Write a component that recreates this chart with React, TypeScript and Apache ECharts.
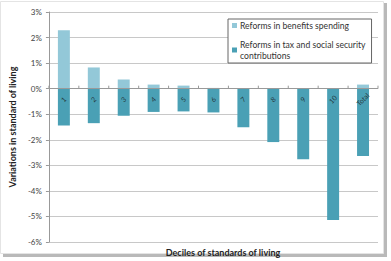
import React, { useEffect, useRef } from "react";
import * as echarts from "echarts";

const categories = ["1", "2", "3", "4", "5", "6", "7", "8", "9", "10", "Total"];
const benefitsSpending = [2.29, 0.83, 0.36, 0.16, 0.12, 0.03, 0, 0, 0, 0, 0.16];
const taxContributions = [-1.44, -1.35, -1.06, -0.91, -0.89, -0.93, -1.51, -2.09, -2.76, -5.14, -2.63];
const yTicks = { min: -6, max: 3, interval: 1 };

const LIGHT = "#93c8d8";
const DARK = "#4aa0b5";
const AXIS = "#999999";
const FONT = "Lato, 'Open Sans', sans-serif";

// Category ticks sit on the 0% line, drawn at each band's edges
function renderCategoryTick(params: any, api: any) {
  const i = api.value(0);
  const [cx, cy] = api.coord([i, 0]);
  const band = api.size([1, 0])[0];
  const edges = i === categories.length - 1 ? [cx - band / 2, cx + band / 2] : [cx - band / 2];
  return {
    type: "group",
    children: edges.map((x) => ({
      type: "line",
      shape: { x1: x, y1: cy, x2: x, y2: cy - 3 },
      style: { stroke: AXIS, lineWidth: 1 },
    })),
  };
}

export default function App() {
  const ref = useRef<HTMLDivElement>(null);

  useEffect(() => {
    if (!ref.current) return;
    const chart = echarts.init(ref.current, null, { renderer: "svg" });
    chart.setOption({
      animation: false,
      backgroundColor: "#ffffff",
      textStyle: { fontFamily: FONT },
      graphic: {
        elements: [
          { type: "rect", z: -20, shape: { x: 3, y: 3, width: 384, height: 254 }, style: { fill: "#b9b9b9" } },
          { type: "rect", z: -19, shape: { x: 0.5, y: 1.5, width: 383, height: 252 }, style: { fill: "#ffffff", stroke: "#e4e4e4", lineWidth: 1 } },
          {
            type: "text",
            x: 223,
            y: 252,
            style: {
              text: "Deciles of standards of living",
              fontFamily: FONT,
              fontSize: 9,
              fontWeight: "bold",
              fill: "#222",
              align: "center",
              verticalAlign: "middle",
            },
          },
        ],
      },
      grid: { left: 40, top: 12, right: 13, bottom: 19, containLabel: false },
      legend: {
        orient: "vertical",
        left: 228,
        top: 19,
        padding: [1, 6, 2, 4],
        itemGap: 8,
        itemWidth: 5,
        itemHeight: 5,
        icon: "rect",
        backgroundColor: "#ffffff",
        borderColor: "#666666",
        borderWidth: 1,
        borderRadius: 0,
        textStyle: { fontSize: 8.6, color: "#333", fontFamily: FONT, lineHeight: 11, padding: [0, 0, 0, -2] },
        formatter: (name: string) =>
          name === "Reforms in tax and social security contributions"
            ? "Reforms in tax and social security\ncontributions"
            : name,
        data: ["Reforms in benefits spending", "Reforms in tax and social security contributions"],
      },
      xAxis: {
        type: "category",
        data: categories,
        axisLine: { show: false },
        axisTick: { show: false },
        axisLabel: { show: false },
        splitLine: { show: false },
      },
      yAxis: {
        type: "value",
        min: yTicks.min,
        max: yTicks.max,
        interval: yTicks.interval,
        name: "Variations in standard of living",
        nameLocation: "middle",
        nameGap: 29,
        nameTextStyle: { fontSize: 9, fontWeight: "bold", color: "#222", fontFamily: FONT },
        axisLine: { show: true, onZero: false, lineStyle: { color: AXIS } },
        axisTick: { show: true, length: 3, lineStyle: { color: AXIS } },
        axisLabel: {
          fontSize: 8,
          color: "#444",
          margin: 7,
          fontFamily: FONT,
          formatter: (v: number) => `${v}%`,
        },
        splitLine: { show: true, lineStyle: { color: "#c8c8c8", width: 1 } },
      },
      series: [
        {
          name: "Reforms in benefits spending",
          type: "bar",
          stack: "reforms",
          barWidth: "40%",
          itemStyle: { color: LIGHT },
          data: benefitsSpending,
          markLine: {
            silent: true,
            symbol: "none",
            label: { show: false },
            lineStyle: { color: AXIS, type: "solid", width: 1 },
            data: [{ yAxis: 0 }],
          },
        },
        {
          name: "Reforms in tax and social security contributions",
          type: "bar",
          stack: "reforms",
          barWidth: "40%",
          itemStyle: { color: DARK },
          data: taxContributions,
        },
        {
          name: "categoryTicks",
          type: "custom",
          silent: true,
          z: 5,
          renderItem: renderCategoryTick,
          data: categories.map((_, i) => [i, 0]),
        },
        {
          name: "categoryLabels",
          type: "scatter",
          silent: true,
          z: 6,
          symbolSize: 1,
          itemStyle: { color: "rgba(0,0,0,0)" },
          label: {
            show: true,
            position: [0, 11],
            rotate: 45,
            align: "center",
            verticalAlign: "middle",
            fontFamily: FONT,
            fontSize: 7,
            color: "#1a1a1a",
            textBorderWidth: 0,
            textBorderColor: "transparent",
            formatter: (p: any) => categories[p.dataIndex],
          },
          data: categories.map((_, i) => [i, 0]),
        },
      ],
    });
    return () => chart.dispose();
  }, []);

  return (
    <div
      ref={ref}
      style={{ position: "fixed", left: 0, top: 0, width: 391, height: 261 }}
    />
  );
}
